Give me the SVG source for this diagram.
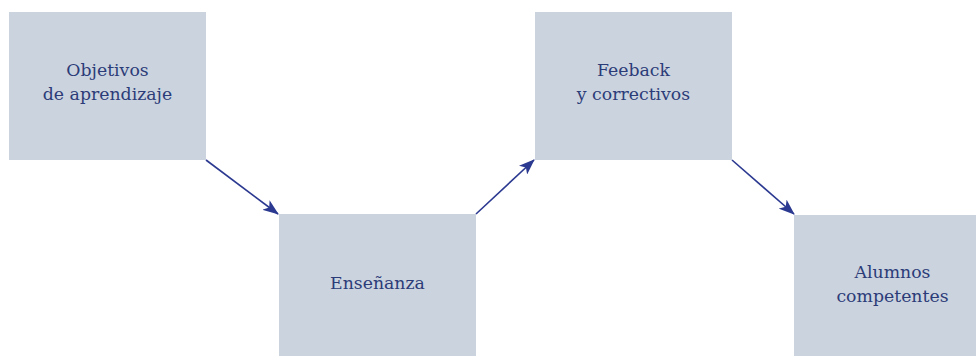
<svg xmlns="http://www.w3.org/2000/svg" width="976" height="356" viewBox="0 0 976 356">
<style>
.box{fill:#cbd3df}
.t{font-family:"DejaVu Serif","Liberation Serif",serif;font-size:17.3px;fill:#2c3c78;text-anchor:middle}
.c{stroke:#2b3990;stroke-width:1.6;fill:none}
</style>
<defs>
<marker id="ah" viewBox="0 0 16 12" refX="15" refY="6" markerWidth="16" markerHeight="12" markerUnits="userSpaceOnUse" orient="auto">
<path d="M0,0 L16,6 L0,12 L4,6 Z" fill="#2b3990"/>
</marker>
</defs>
<rect width="976" height="356" fill="#ffffff"/>
<g id="n1"><rect class="box" x="9" y="12" width="197" height="148"/><text class="t" x="107.5" y="76">Objetivos</text><text class="t" x="107.5" y="99.5">de aprendizaje</text></g>
<g id="n2"><rect class="box" x="279" y="214" width="197" height="142"/><text class="t" x="377.5" y="289">Enseñanza</text></g>
<g id="n3"><rect class="box" x="535" y="12" width="197" height="148"/><text class="t" x="633.5" y="76">Feeback</text><text class="t" x="633.5" y="99.5">y correctivos</text></g>
<g id="n4"><rect class="box" x="794" y="215" width="197" height="141"/><text class="t" x="892.5" y="278">Alumnos</text><text class="t" x="892.5" y="301.5">competentes</text></g>
<g id="connectors">
<line class="c" x1="206" y1="160" x2="278" y2="214" marker-end="url(#ah)"/>
<line class="c" x1="476" y1="214" x2="534" y2="160" marker-end="url(#ah)"/>
<line class="c" x1="732" y1="160" x2="794" y2="214" marker-end="url(#ah)"/>
</g>
</svg>
